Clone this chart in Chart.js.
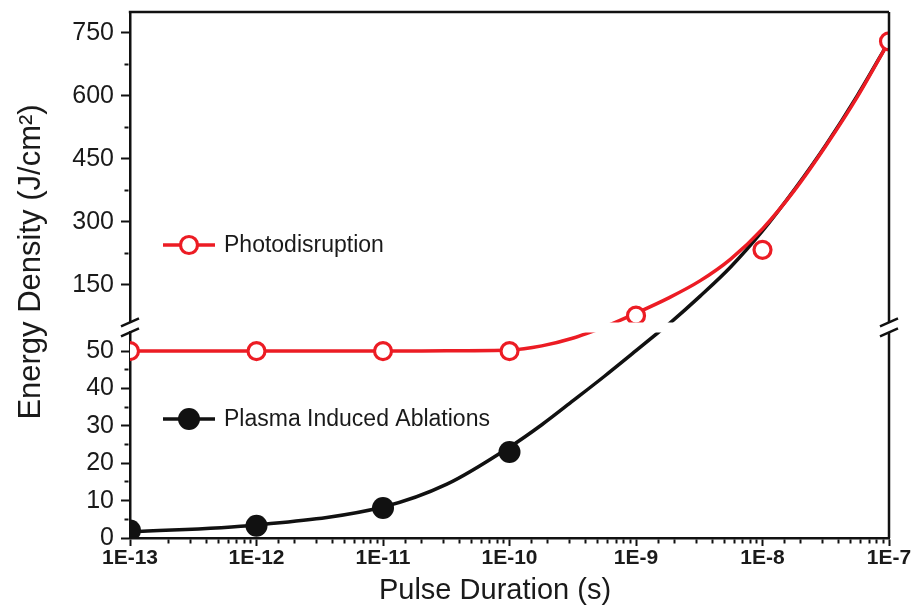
<!DOCTYPE html>
<html>
<head>
<meta charset="utf-8">
<script src="https://cdn.jsdelivr.net/npm/chart.js@4.4.1/dist/chart.umd.min.js"></script>
<style>
  html, body { margin: 0; padding: 0; background: #fff; }
  #wrap { width: 916px; height: 613px; }
</style>
</head>
<body>
<div id="wrap"><canvas id="energyChart"></canvas></div>
<script>
// Measured thresholds: pulse duration (s) vs energy density (J/cm²)
const pulses = [1e-13, 1e-12, 1e-11, 1e-10, 1e-9, 1e-8, 1e-7];
const photoEnergy = [50, 50, 50, 50, 76, 233, 730];
const plasmaPulses = [1e-13, 1e-12, 1e-11, 1e-10];
const plasmaEnergy = [2, 3.3, 8, 23];

// Fitted curves sampled along the pulse axis, one list per side of the axis break
const fitPulses = [1e-13, 1e-12, 1e-11, 3.2e-11, 1e-10, 1.8e-10, 3.2e-10, 5.6e-10, 1e-9,
                   1.8e-9, 3.2e-9, 5.6e-9, 1e-8, 1.8e-8, 3.2e-8, 5.6e-8, 1e-7];
const photoFitLow   = [50, 50, 50, 50.1, 50.3, 51.4, 53.5, 56.4, null, null, null, null, null, null, null, null, null];
const photoFitHigh  = [null, null, null, null, null, null, 23, 49, 82, 118, 159, 211, 283, 376, 483, 597, 730];
const plasmaFitLow  = [1.6, 3.5, 8.3, 14.4, 24.3, 30.3, 36.8, 43.2, 50.1, 57.2, null, null, null, null, null, null, null];
const plasmaFitHigh = [null, null, null, null, null, null, null, null, -8, 55, 122, 192, 278, 378, 485, 600, 730];

// Broken energy axis: lower 0–55, upper 60–800
const lowRange = [0, 55];
const highRange = [60, 800];
const lowTicks = [0, 5, 10, 15, 20, 25, 30, 35, 40, 45, 50];
const lowLabels = [0, 10, 20, 30, 40, 50];
const highTicks = [150, 225, 300, 375, 450, 525, 600, 675, 750];
const highLabels = [150, 300, 450, 600, 750];
const pulseLabels = ['1E-13', '1E-12', '1E-11', '1E-10', '1E-9', '1E-8', '1E-7'];

const RED = '#ec1c24';
const BLACK = '#111111';
const TEXT = '#1a1a1a';
const FONT = "'Liberation Sans', Arial, sans-serif";

const pts = (xs, ys) => xs.map((x, i) => ({ x, y: ys[i] }));
const pick = (xs, ys, test) => pts(xs, ys).filter(p => test(p.y));
const inLow = v => v <= lowRange[1];
const inHigh = v => v >= highRange[0];

const decadeLabel = v => {
  const e = Math.round(Math.log10(v));
  return Math.abs(Math.log10(v) - e) < 1e-6 ? '1E' + e : '';
};

function fitLine(data, axis, color, order) {
  return {
    data, yAxisID: axis, showLine: true, borderColor: color, borderWidth: 3.5,
    pointRadius: 0, cubicInterpolationMode: 'monotone', spanGaps: false, order, clip: 0
  };
}

function markers(data, axis, filled, order) {
  return filled
    ? { data, yAxisID: axis, showLine: false, pointRadius: 11, pointBackgroundColor: BLACK,
        pointBorderWidth: 0, order, clip: 0 }
    : { data, yAxisID: axis, showLine: false, pointRadius: 8.5, pointBackgroundColor: '#fff',
        pointBorderColor: RED, pointBorderWidth: 3.2, order, clip: 0 };
}

// shorter tick marks for minor ticks (left axis ticks run outward -> inward)
const leftTickDash = list => c => list.includes(c.tick.value) ? [] : [4, 100];
const leftTickOffset = list => c => list.includes(c.tick.value) ? 0 : 100.5;

function energyAxis(range, ticks, labels, weight) {
  return {
    type: 'linear', axis: 'y', position: 'left', stack: 'energy', stackWeight: weight,
    min: range[0], max: range[1],
    afterBuildTicks: s => { s.ticks = ticks.map(v => ({ value: v })); },
    afterFit: s => { s.width = 130; s.paddingTop = 0; s.paddingBottom = 0; },
    border: { display: true, color: BLACK, width: 2.5 },
    grid: {
      drawOnChartArea: false, drawTicks: true, tickLength: 9, tickWidth: 2, tickColor: BLACK,
      tickBorderDash: leftTickDash(labels), tickBorderDashOffset: leftTickOffset(labels)
    },
    ticks: {
      autoSkip: false, padding: 7, color: TEXT,
      font: { family: FONT, size: 25 },
      callback: v => labels.includes(v) ? String(v) : ''
    }
  };
}

// frame on top/right, break marks and both axis titles
const framePlugin = {
  id: 'frame',
  afterDraw(chart) {
    const { ctx, chartArea: a, scales } = chart;
    const lo = scales.yLow, hi = scales.yHigh;
    ctx.save();
    ctx.strokeStyle = BLACK;
    ctx.lineWidth = 2.5;
    ctx.beginPath();
    ctx.moveTo(a.left - 1.2, a.top);
    ctx.lineTo(a.right, a.top);
    ctx.moveTo(a.right, a.top);
    ctx.lineTo(a.right, hi.bottom);
    ctx.moveTo(a.right, lo.top);
    ctx.lineTo(a.right, a.bottom);
    ctx.stroke();
    [a.left, a.right].forEach(x => {
      [hi.bottom, lo.top].forEach(y => {
        ctx.beginPath();
        ctx.moveTo(x - 9, y + 4);
        ctx.lineTo(x + 9, y - 4);
        ctx.stroke();
      });
    });
    ctx.fillStyle = TEXT;
    ctx.textAlign = 'center';
    ctx.textBaseline = 'middle';
    ctx.font = '29px ' + FONT;
    ctx.fillText('Pulse Duration (s)', 495, 591);
    ctx.font = '31px ' + FONT;
    ctx.translate(31, 262);
    ctx.rotate(-Math.PI / 2);
    ctx.fillText('Energy Density (J/cm²)', 0, 0);
    ctx.restore();
  }
};

// in-plot legend entries
const legendEntries = [
  { text: 'Photodisruption', color: RED, filled: false, x: 163, y: 245 },
  { text: 'Plasma Induced Ablations', color: BLACK, filled: true, x: 163, y: 419 }
];
const legendPlugin = {
  id: 'inlineLegend',
  afterDraw(chart) {
    const ctx = chart.ctx;
    ctx.save();
    legendEntries.forEach(e => {
      ctx.strokeStyle = e.color;
      ctx.lineWidth = 3.5;
      ctx.beginPath();
      ctx.moveTo(e.x, e.y);
      ctx.lineTo(e.x + 52, e.y);
      ctx.stroke();
      ctx.beginPath();
      if (e.filled) {
        ctx.arc(e.x + 26, e.y, 11, 0, Math.PI * 2);
        ctx.fillStyle = e.color;
        ctx.fill();
      } else {
        ctx.lineWidth = 3.2;
        ctx.arc(e.x + 26, e.y, 8.5, 0, Math.PI * 2);
        ctx.fillStyle = '#fff';
        ctx.fill();
        ctx.stroke();
      }
      ctx.fillStyle = TEXT;
      ctx.font = '23px ' + FONT;
      ctx.textAlign = 'left';
      ctx.textBaseline = 'middle';
      ctx.fillText(e.text, e.x + 61, e.y + 1);
    });
    ctx.restore();
  }
};

const chart = new Chart(document.getElementById('energyChart'), {
  type: 'scatter',
  data: {
    datasets: [
      fitLine(pts(fitPulses, plasmaFitLow), 'yLow', BLACK, 4),
      fitLine(pts(fitPulses, plasmaFitHigh), 'yHigh', BLACK, 4),
      markers(pick(plasmaPulses, plasmaEnergy, inLow), 'yLow', true, 3),
      fitLine(pts(fitPulses, photoFitLow), 'yLow', RED, 2),
      fitLine(pts(fitPulses, photoFitHigh), 'yHigh', RED, 2),
      markers(pick(pulses, photoEnergy, inLow), 'yLow', false, 1),
      markers(pick(pulses, photoEnergy, inHigh), 'yHigh', false, 1)
    ]
  },
  options: {
    responsive: true,
    maintainAspectRatio: false,
    animation: false,
    layout: { padding: { top: 12, right: 27, left: 0, bottom: 0 } },
    plugins: { legend: { display: false }, tooltip: { enabled: false } },
    scales: {
      x: {
        type: 'logarithmic', position: 'bottom', min: 1e-13, max: 1e-7,
        afterFit: s => { s.height = 75; },
        border: { display: true, color: BLACK, width: 2.5 },
        grid: {
          drawOnChartArea: false, drawTicks: true, tickLength: 8, tickWidth: 2, tickColor: BLACK,
          tickBorderDash: c => decadeLabel(c.tick.value) ? [] : [4, 100]
        },
        ticks: {
          autoSkip: false, maxRotation: 0, padding: 0, color: TEXT,
          font: { family: FONT, size: 21, weight: 'bold' },
          callback: v => pulseLabels.includes(decadeLabel(v)) ? decadeLabel(v) : ''
        }
      },
      yLow: energyAxis(lowRange, lowTicks, lowLabels, 206),
      yGap: {
        type: 'linear', axis: 'y', position: 'left', stack: 'energy', stackWeight: 10,
        min: 0, max: 1, display: false
      },
      yHigh: energyAxis(highRange, highTicks, highLabels, 311)
    }
  },
  plugins: [framePlugin, legendPlugin]
});
</script>
</body>
</html>
